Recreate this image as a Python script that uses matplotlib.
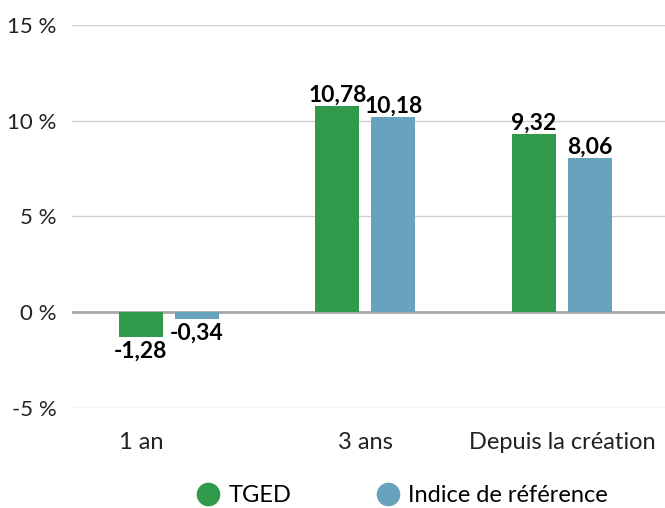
import numpy as np
import matplotlib.pyplot as plt
import matplotlib.transforms as mtransforms

plt.rcParams['font.family'] = ['Lato', 'DejaVu Sans']

# données
categories = ["1 an", "3 ans", "Depuis la création"]
tged = [-1.28, 10.78, 9.32]
indice = [-0.34, 10.18, 8.06]
series_names = ["TGED", "Indice de référence"]
yticks = [-5, 0, 5, 10, 15]

green = "#2e9a4a"
blue = "#68a3bd"

fig = plt.figure(figsize=(6.65, 5.08), dpi=100)
ax = fig.add_axes([0.108, 0.197, 0.892, 0.754])

x = np.arange(len(categories))
w = 0.224
off = 0.1425

b1 = ax.bar(x - off, tged, w, color=green, zorder=3, label=series_names[0])
b2 = ax.bar(x + off, indice, w, color=blue, zorder=3, label=series_names[1])

def fmt(v):
    return f"{v:.2f}".replace(".", ",")

for bars, vals in [(b1, tged), (b2, indice)]:
    for rect, v in zip(bars, vals):
        cx = rect.get_x() + rect.get_width() / 2
        if v >= 0:
            ax.annotate(fmt(v), (cx, v), xytext=(0, 0), textcoords="offset points",
                        ha="center", va="bottom", fontsize=16.5, fontweight="bold", zorder=5)
        else:
            ax.annotate(fmt(v), (cx, v), xytext=(0, -3), textcoords="offset points",
                        ha="center", va="top", fontsize=16.5, fontweight="bold", zorder=5)

ax.set_ylim(-5, 15)
ax.set_xlim(-0.494, 2.524)
ax.set_yticks(yticks)
ax.set_yticklabels([f"{t} %" for t in yticks], fontsize=16, color="#222222")
ax.set_xticks(x)
ax.set_xticklabels(categories, fontsize=17, color="#222222")
ax.tick_params(axis="y", length=0, pad=11)
ax.tick_params(axis="x", length=0, pad=17)

# premier libellé un peu décalé à gauche comme dans l'original
lbl = ax.get_xticklabels()[0]
lbl.set_transform(lbl.get_transform() + mtransforms.ScaledTranslation(-0.28, 0, fig.dpi_scale_trans))

ax.yaxis.grid(True, color="#cfcfcf", lw=1, zorder=0)
ax.axhline(0, color="#a8a8a8", lw=2, zorder=2)
for s in ax.spines.values():
    s.set_visible(False)

handles = [
    plt.Line2D([], [], marker="o", ls="", color=green, markersize=16),
    plt.Line2D([], [], marker="o", ls="", color=blue, markersize=16),
]
fig.legend(handles, series_names, loc="center", bbox_to_anchor=(0.605, 0.024),
           ncol=2, frameon=False, fontsize=17, columnspacing=3.6,
           handletextpad=0.35, handlelength=1.0)

plt.savefig("out.png", dpi=100)
